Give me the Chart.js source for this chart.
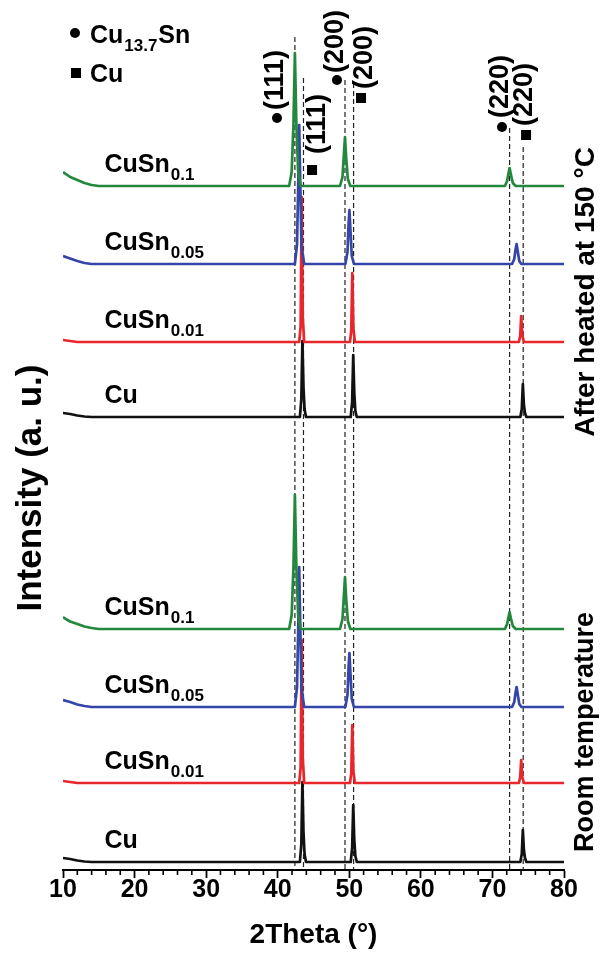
<!DOCTYPE html>
<html>
<head>
<meta charset="utf-8">
<script src="https://cdn.jsdelivr.net/npm/chart.js@4.4.0/dist/chart.umd.min.js"></script>
<style>
  html, body { margin: 0; padding: 0; background: #fff; }
  #wrap { width: 609px; height: 953px; }
</style>
</head>
<body>
<div id="wrap"><canvas id="xrd"></canvas></div>
<script>
// XRD patterns, [2theta, intensity (a.u.)]
const rtCu = [[10,4],[11,3],[12,1.5],[13,0.5],[14,0],[43.1,0],[43.3,18],[43.45,80],[43.6,30],[43.75,8],[43.95,0],
  [50.2,0],[50.4,14],[50.55,57],[50.7,22],[50.85,6],[51.05,0],[73.9,0],[74.1,8],[74.25,32],[74.4,12],[74.55,4],[74.75,0],[80,0]];
const rtSn001 = [[10,2],[11,1],[12,0],[43.0,0],[43.2,15],[43.35,143],[43.5,25],[43.7,0],
  [50.1,0],[50.28,10],[50.42,58],[50.57,12],[50.78,0],[73.7,0],[73.88,6],[74.02,23],[74.17,6],[74.4,0],[80,0]];
const rtSn005 = [[10,7],[11,5],[12,2.5],[13,1],[14,0],[42.4,0],[42.7,20],[42.88,85],[43.0,140],[43.14,85],[43.32,18],[43.7,0],
  [49.45,0],[49.75,12],[49.9,40],[50.02,54],[50.16,34],[50.35,8],[50.65,0],[72.75,0],[73.05,5],[73.22,14],[73.38,20],[73.53,13],[73.75,3],[74.05,0],[80,0]];
const rtSn01 = [[10,12],[10.5,9.5],[11,7.5],[12,5],[13,2.5],[14,1],[15,0],[41.6,0],[41.95,14],[42.2,62],[42.4,134],[42.6,64],[42.85,15],[43.2,0],
  [48.7,0],[49.05,10],[49.25,34],[49.4,52],[49.56,31],[49.8,8],[50.15,0],[71.75,0],[72.05,5],[72.25,12],[72.4,17],[72.57,11],[72.85,3],[73.25,0],[80,0]];

const htCu = [[10,4],[11,3],[12,1.5],[13,0.5],[14,0],[43.1,0],[43.3,18],[43.45,76],[43.6,30],[43.75,8],[43.95,0],
  [50.2,0],[50.4,15],[50.55,62],[50.7,24],[50.85,6],[51.05,0],[73.9,0],[74.1,8],[74.25,33],[74.4,12],[74.55,4],[74.75,0],[80,0]];
const htSn001 = [[10,2],[11,1],[12,0],[43.0,0],[43.2,15],[43.35,145],[43.5,25],[43.7,0],
  [50.1,0],[50.28,12],[50.42,69],[50.57,14],[50.78,0],[73.7,0],[73.88,6],[74.02,26],[74.17,7],[74.4,0],[80,0]];
const htSn005 = [[10,8],[11,5.5],[12,3],[13,1],[14,0],[42.4,0],[42.7,20],[42.88,85],[43.0,139],[43.14,85],[43.32,18],[43.7,0],
  [49.45,0],[49.75,12],[49.9,40],[50.02,54],[50.16,34],[50.35,8],[50.65,0],[72.75,0],[73.05,5],[73.22,14],[73.38,20],[73.53,13],[73.75,3],[74.05,0],[80,0]];
const htSn01 = [[10,14],[10.5,11.5],[11,9],[12,6],[13,3],[14,1],[15,0],[41.6,0],[41.95,14],[42.2,62],[42.4,133],[42.6,64],[42.85,15],[43.2,0],
  [48.7,0],[49.05,9],[49.25,32],[49.4,49],[49.56,29],[49.8,7],[50.15,0],[71.75,0],[72.05,5],[72.25,13],[72.4,18],[72.57,12],[72.85,3],[73.25,0],[80,0]];

const samples = ['Cu', 'CuSn', 'CuSn', 'CuSn'];
const sampleSubs = ['', '0.01', '0.05', '0.1'];
const roomOffsets = [8, 87, 163, 241];
const heatedOffsets = [453, 528, 606, 684];
const xTicks = [10, 20, 30, 40, 50, 60, 70, 80];

// reference peak positions (2theta) and the height where each dashed line starts
const refPeaks = [42.4, 43.6, 49.4, 50.6, 72.4, 74.3];
const refTops = [833, 792, 790, 787, 742, 723];

const colors = ['#111111', '#e8262b', '#3545a8', '#23883c'];
const FONT = '"Liberation Sans", Arial, sans-serif';

const roomSets = [rtCu, rtSn001, rtSn005, rtSn01];
const heatedSets = [htCu, htSn001, htSn005, htSn01];

function shift(pts, off) {
  return pts.map(p => [p[0], p[1] + off]);
}

const datasets = [];
[roomSets, heatedSets].forEach((group, g) => {
  const offs = g === 0 ? roomOffsets : heatedOffsets;
  group.forEach((pts, i) => {
    datasets.push({
      label: samples[i] + sampleSubs[i],
      data: shift(pts, offs[i]),
      borderColor: colors[i],
      borderWidth: 2.7,
      borderJoinStyle: 'round',
      pointRadius: 0,
      tension: 0,
      order: 4 - i
    });
  });
});

// peak markers: 'c' = Cu13.7Sn, 's' = Cu
const peakLabels = [
  {m: 'c', text: '(111)', tx: 39.76, ty: 760, mx: 39.9, my: 752},
  {m: 's', text: '(111)', tx: 45.5, ty: 716, mx: 44.8, my: 700},
  {m: 'c', text: '(200)', tx: 48.14, ty: 797, mx: 48.28, my: 790},
  {m: 's', text: '(200)', tx: 52.2, ty: 781, mx: 51.64, my: 772},
  {m: 'c', text: '(220)', tx: 71.2, ty: 752, mx: 71.34, my: 743},
  {m: 's', text: '(220)', tx: 74.55, ty: 744, mx: 74.7, my: 735}
];

function subText(ctx, x, y, main, sub, size, subSize) {
  ctx.textAlign = 'left';
  ctx.textBaseline = 'alphabetic';
  ctx.font = 'bold ' + size + 'px ' + FONT;
  ctx.fillText(main, x, y);
  let w = ctx.measureText(main).width;
  if (sub) {
    ctx.font = 'bold ' + subSize + 'px ' + FONT;
    ctx.fillText(sub, x + w + 1, y + 8);
  }
}

function marker(ctx, type, x, y) {
  ctx.beginPath();
  if (type === 'c') {
    ctx.arc(x, y, 5, 0, Math.PI * 2);
    ctx.fill();
  } else {
    ctx.fillRect(x - 5, y - 5, 10, 10);
  }
}

const decor = {
  id: 'decor',
  beforeDatasetsDraw(chart) {
    const {ctx, scales: {x, y}} = chart;
    ctx.save();
    ctx.strokeStyle = '#222';
    ctx.lineWidth = 1.2;
    ctx.setLineDash([5, 3]);
    refPeaks.forEach((p, i) => {
      const px = x.getPixelForValue(p);
      ctx.beginPath();
      ctx.moveTo(px, y.getPixelForValue(refTops[i]));
      ctx.lineTo(px, y.bottom);
      ctx.stroke();
    });
    ctx.restore();
  },
  afterDraw(chart) {
    const {ctx, chartArea, scales: {x, y}} = chart;
    ctx.save();
    ctx.fillStyle = '#000';
    ctx.strokeStyle = '#000';

    // minor ticks every 2 degrees
    ctx.lineWidth = 1.6;
    for (let v = 12; v < 80; v += 2) {
      if (v % 10 === 0) continue;
      const px = x.getPixelForValue(v);
      ctx.beginPath();
      ctx.moveTo(px, y.bottom);
      ctx.lineTo(px, y.bottom + 5);
      ctx.stroke();
    }

    // sample labels
    [roomOffsets, heatedOffsets].forEach(offs => {
      offs.forEach((o, i) => {
        subText(ctx, x.getPixelForValue(15.8), y.getPixelForValue(o + 14), samples[i], sampleSubs[i], 25, 17);
      });
    });

    // legend
    marker(ctx, 'c', 75, 33);
    subText(ctx, 90, 43, 'Cu', '13.7', 25, 17);
    ctx.font = 'bold 25px ' + FONT;
    ctx.fillText('Sn', 90 + ctx.measureText('Cu').width + 1 + 34, 43);
    marker(ctx, 's', 76, 73);
    subText(ctx, 90, 82, 'Cu', '', 25, 17);

    // peak annotations
    peakLabels.forEach(l => {
      marker(ctx, l.m, x.getPixelForValue(l.mx), y.getPixelForValue(l.my));
      ctx.save();
      ctx.translate(x.getPixelForValue(l.tx), y.getPixelForValue(l.ty));
      ctx.rotate(-Math.PI / 2);
      ctx.font = 'bold 27px ' + FONT;
      ctx.textAlign = 'left';
      ctx.textBaseline = 'middle';
      ctx.fillText(l.text, 0, 0);
      ctx.restore();
    });

    // rotated side titles
    const side = (txt, cx, cy, size) => {
      ctx.save();
      ctx.translate(cx, cy);
      ctx.rotate(-Math.PI / 2);
      ctx.font = 'bold ' + size + 'px ' + FONT;
      ctx.textAlign = 'center';
      ctx.textBaseline = 'middle';
      ctx.fillText(txt, 0, 0);
      ctx.restore();
    };
    side('After heated at 150 \u00B0C', chartArea.right + 22, y.getPixelForValue(578), 28);
    side('Room temperature', chartArea.right + 22, y.getPixelForValue(138), 27);
    side('Intensity (a. u.)', 31, y.getPixelForValue(382), 35);
    ctx.restore();
  }
};

new Chart(document.getElementById('xrd'), {
  type: 'line',
  data: { datasets: datasets },
  options: {
    responsive: true,
    maintainAspectRatio: false,
    animation: false,
    layout: { padding: { left: 63, right: 45, top: 30, bottom: 0 } },
    plugins: { legend: { display: false }, tooltip: { enabled: false } },
    scales: {
      x: {
        type: 'linear',
        min: 10,
        max: 80,
        afterFit: s => { s.height = 83; },
        afterBuildTicks: s => { s.ticks = xTicks.map(v => ({value: v})); },
        ticks: {
          color: '#000',
          padding: -3,
          maxRotation: 0,
          font: { family: FONT, size: 25, weight: 'bold' }
        },
        grid: { drawOnChartArea: false, tickLength: 8, tickWidth: 1.8, tickColor: '#000' },
        border: { color: '#000', width: 2 },
        title: {
          display: true,
          text: '2Theta (\u00B0)',
          color: '#000',
          padding: { bottom: 1 },
          font: { family: FONT, size: 28, weight: 'bold' }
        }
      },
      y: {
        display: false,
        min: 0,
        max: 840
      }
    }
  },
  plugins: [decor]
});
</script>
</body>
</html>
